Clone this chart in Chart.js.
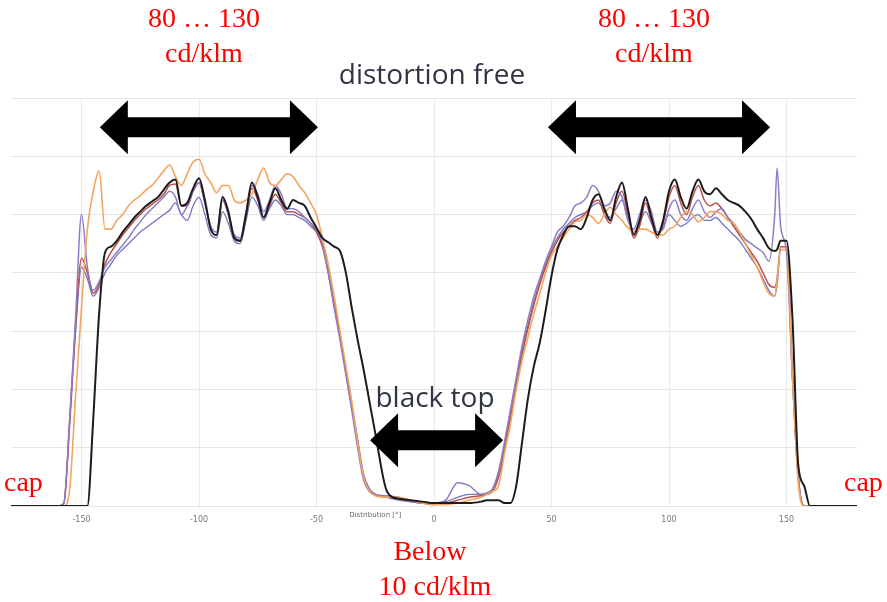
<!DOCTYPE html>
<html><head><meta charset="utf-8">
<script src="https://cdn.jsdelivr.net/npm/chart.js@4.4.1/dist/chart.umd.min.js"></script>
<style>html,body{margin:0;padding:0;background:#fff;}#wrap{width:887px;height:602px;}</style>
</head><body><div id="wrap"><canvas id="c" width="887" height="602"></canvas></div>
<script>
// Angle grid (degrees)
const angles = [-180,-170,-162.5,-160,-157.5,-155,-152.5,-150,-147.5,-145,-142.5,-140,-137.5,-135,-132.5,-130,-127.5,-125,-122.5,-120,-117.5,-115,-112.5,-110,-107.5,-105,-102.5,-100,-97.5,-95,-92.5,-90,-87.5,-85,-82.5,-80,-77.5,-75,-72.5,-70,-67.5,-65,-62.5,-60,-57.5,-55,-52.5,-50,-47.5,-45,-42.5,-40,-37.5,-35,-32.5,-30,-27.5,-25,-20,-15,-10,-5,0,5,10,15,20,22.5,25,27.5,30,32.5,35,37.5,40,42.5,45,47.5,50,52.5,55,57.5,60,62.5,65,67.5,70,72.5,75,77.5,80,82.5,85,87.5,90,92.5,95,97.5,100,102.5,105,107.5,110,112.5,115,117.5,120,122.5,125,127.5,130,132.5,135,137.5,140,142.5,145,146,147.5,150,152.5,155,157.5,160,170,180];

const blackLine = [0,0,0,0,0,0,0,0,0,30,66,87,89,91,94,96.5,99,101,103,104.5,106,108.5,111,112,103,104,109,112.5,105,95,93,106,101,92,91,100,111,106,99,104,109,105,102,105,104,103,99,95.5,92,90.5,89,87.5,80,68,57,47,36,25,5,2.5,2,1.5,1,1,1,1,1.5,2,2,2,1,1,7,22,37,48,56,67,79,88,93,96,96,95,99,105,107,102,98,106,111,102,93,98,106,99,93,98,108,112,106,102,108,112,108,107,109,107,105,104,103,101,98.5,95,92,88.5,87.5,88,91,91,65,14,7,0,0,0];

const orangeLine = [0,0,0,0,0,6,38,68,95,108,115,95,95,98,100,103,105,106.5,108.5,110,112.5,115,117,113,110,114,118,119,114,111,107.5,110,110,105,104,105,107,112,116,111,110,112,114,113,110,107.5,104,100,92,83,72,60,48,36,22,10,5,3.5,3,3,2,1,0.5,0.5,1,2,3,4,5,7,18,28,40,50,58,66,73,80,86,89,92,95,97.5,98,100,99,97,100,102.5,100,98,95.5,94,95,95,94,93,93,95,96,99,101,100,97.5,99,101,101,100,98,97,94,90,86,82,77,73,72,78,88,88,45,8,0,0,0,0];

const violetLine = [0,0,0,0,1,30,65,100,82,74,77,82,84.5,87,89.5,92,95,97.5,100,102,104,106,108,106,100,103,108,111,104,96,94,105,100,93,92,101,110,107,101,105,110,107,102,102,101,99,97,95,90,80,68,57,45,33,20,9,5,4,3.5,3,1.5,1,1,2,8,7,4,4,6,12,22,33,44,55,64,72,78,84,89,94,96,99,103,104,106,110,108,103,104,108,106,98,95,100,105,101,94,95,102,105,100,98,102,105,101,99,101,102,99,97,94,91.5,90,88.5,87,84,100,116,96,87,45,10,0,0,0,0];

const redLine = [0,0,0,0,1,30,62,85,80,73,76,83,87,90,93,95.5,98,100,102,103.5,105,107,110,110.5,103,103,108,111,104,95,93,105,100,92,91,99,109,105,99,103,107,104,101,101,100,99,97,94,89,80,69,58,46,34,22,10,5,4,3,2.5,1.5,1,0.5,1,2,3,3.5,4,5,10,19,30,41,52,61,69,76,82,87,91,94,96,98,99,101,104,105,100,97,104,108,100,92,96,104,98,92,97,106,110,104,100,106,110,105,103,104,102,99,96,93,90,87,84,80,76,75,78,89,89,45,10,0,0,0,0];

const lavenderLine = [0,0,0,0,1,28,60,82,78,72,75,80,83,86,88,90,92,94,95.5,97,98.5,100,101.5,104,100,98,103,106,100,93,92,101,97,91,90,98,106,103,98,102,105,103,100,100,99,98,96,94,90,81,70,59,47,35,23,11,6,4,3,2,1.5,1,1,1.5,3,4,4,4.5,6,11,21,32,43,54,62,70,77,83,88,92,95,97,99,100,101,103,104,101,99,102,105,99,94,97,101,97,93,96,100,98,96,97,99,100,98,98,99,97,95,93,91,88,85,82,78,74,72,76,88,88,45,10,0,0,0,0];

const seriesNames = ['black','orange','violet','red','lavender'];
const xTicks = [-150,-100,-50,0,50,100,150];
const yTicks = [0,20,40,60,80,100,120,140];
const axisTitle = 'Distribution [°]';

// annotation arrows in data units
const arrowSpans = [[-142.2,-49.4,130],[48.5,143,130],[-27.2,29.4,22.6]];

const toPts = arr => arr.map((v,i)=>({x:angles[i], y:v}));

const annot = {
  id:'annot',
  afterDraw(chart){
    const ctx = chart.ctx, xs = chart.scales.x, ys = chart.scales.y;
    ctx.save();
    ctx.fillStyle = '#000';
    arrowSpans.forEach(([a,b,v])=>{
      const x1 = xs.getPixelForValue(a), x2 = xs.getPixelForValue(b), y = ys.getPixelForValue(v);
      const hl = 28, hh = 27, sh = 10;
      ctx.beginPath();
      ctx.moveTo(x1,y);
      ctx.lineTo(x1+hl,y-hh);
      ctx.lineTo(x1+hl,y-sh);
      ctx.lineTo(x2-hl,y-sh);
      ctx.lineTo(x2-hl,y-hh);
      ctx.lineTo(x2,y);
      ctx.lineTo(x2-hl,y+hh);
      ctx.lineTo(x2-hl,y+sh);
      ctx.lineTo(x1+hl,y+sh);
      ctx.lineTo(x1+hl,y+hh);
      ctx.closePath();
      ctx.fill();
    });
    ctx.fillStyle = '#666';
    ctx.font = '7px "DejaVu Sans"';
    ctx.textAlign = 'center';
    ctx.textBaseline = 'middle';
    ctx.fillText(axisTitle, xs.getPixelForValue(-25), chart.chartArea.bottom + 9);
    ctx.fillStyle = '#ff0000';
    ctx.font = '28px "Liberation Serif"';
    ctx.fillText('80 … 130', 204, 20);
    ctx.fillText('cd/klm', 204, 55);
    ctx.fillText('80 … 130', 654, 20);
    ctx.fillText('cd/klm', 654, 55);
    ctx.fillText('Below', 430, 553);
    ctx.fillText('10 cd/klm', 435, 588);
    ctx.textAlign = 'left';
    ctx.fillText('cap', 4, 484);
    ctx.fillText('cap', 844, 484);
    ctx.textAlign = 'center';
    ctx.fillStyle = '#2f3542';
    ctx.font = '28px "Open Sans"';
    ctx.fillText('distortion free', 432, 76);
    ctx.fillText('black top', 435, 399);
    ctx.restore();
  }
};

const colors = ['#1c1c1c','#f2a55e','#8e7cc6','#b9504c','#6f74bd'];
const widths = [2,1.6,1.5,1.5,1.3];
const dataArrays = [blackLine, orangeLine, violetLine, redLine, lavenderLine];

new Chart(document.getElementById('c'), {
  type:'line',
  data:{
    datasets: dataArrays.map((arr,i)=>({
      label: seriesNames[i],
      data: toPts(arr),
      borderColor: colors[i],
      borderWidth: widths[i],
      pointRadius: 0,
      fill: false,
      cubicInterpolationMode: 'monotone'
    }))
  },
  options:{
    responsive:false,
    devicePixelRatio:1,
    animation:false,
    layout:{padding:{left:11,right:30,top:98,bottom:66}},
    plugins:{legend:{display:false},tooltip:{enabled:false}},
    scales:{
      x:{
        type:'linear', min:-180, max:180,
        afterBuildTicks:s=>{s.ticks = xTicks.map(v=>({value:v}));},
        afterFit:s=>{s.height = 30;},
        grid:{color:'#e9e9e9', drawTicks:false},
        border:{display:false},
        ticks:{font:{size:8, family:'DejaVu Sans'}, color:'#777', padding:9, maxRotation:0}
      },
      y:{
        min:0, max:140,
        afterBuildTicks:s=>{s.ticks = yTicks.map(v=>({value:v}));},
        afterFit:s=>{s.width = 0;},
        grid:{color:'#e6e6e6', drawTicks:false},
        border:{display:false},
        ticks:{display:false}
      }
    }
  },
  plugins:[annot]
});
</script>
</body></html>
